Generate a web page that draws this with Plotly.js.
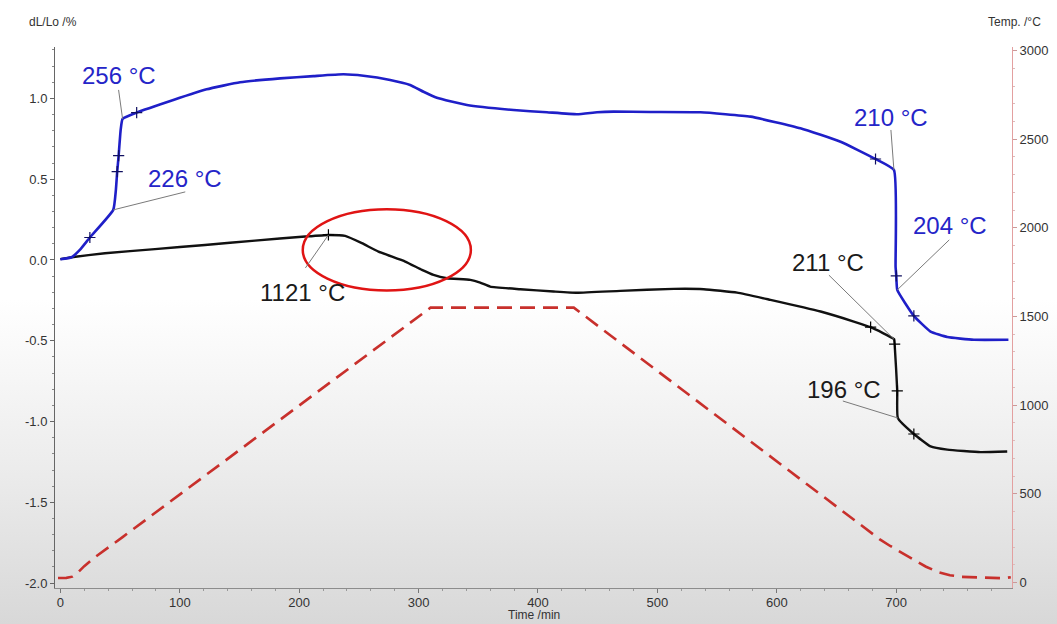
<!DOCTYPE html>
<html>
<head>
<meta charset="utf-8">
<script src="https://cdn.plot.ly/plotly-3.0.1.min.js"></script>
<style>
  html, body { margin: 0; padding: 0; }
  #chart {
    width: 1057px; height: 624px;
    background: linear-gradient(to bottom, #ffffff 0%, #ffffff 48%, #ececec 75%, #d8d8d8 100%);
  }
</style>
</head>
<body>
<div id="chart"></div>
<script>
// Dilatometer run: relative length change of two samples and the furnace temperature program

// Sample A (blue) – time in min, dL/Lo in %
const blueTime = [0, 9.4, 16.3, 24.7, 44.3, 46.5, 47.6, 48.8, 50.5, 52.1, 63.9, 94.6, 122.5, 150.5, 184, 211.9, 237.1, 253.8, 276.2, 292.9, 304.1, 315.3, 340.5, 379.5, 407.5, 432.7, 449.5, 463.4, 494.1, 536.1, 578, 619.8, 653.4, 682.7, 698.1, 699.5, 700.1, 700.9, 714.8, 728.8, 742.8, 765.1, 794];
const blueDL   = [0.005, 0.017, 0.062, 0.139, 0.310, 0.434, 0.547, 0.646, 0.805, 0.873, 0.912, 0.990, 1.056, 1.100, 1.124, 1.138, 1.149, 1.140, 1.114, 1.083, 1.041, 1.004, 0.959, 0.928, 0.914, 0.902, 0.914, 0.918, 0.916, 0.914, 0.887, 0.815, 0.732, 0.625, 0.557, -0.041, -0.098, -0.185, -0.346, -0.443, -0.477, -0.494, -0.494];

// Sample B (black)
const blackTime = [0, 9.4, 37.3, 79.2, 121.1, 163, 205, 224.5, 238.5, 252.5, 266.4, 288.8, 302.8, 312.5, 323.7, 343.3, 351.6, 360, 385.2, 413.1, 432.7, 469, 513.7, 538.8, 566.8, 594.7, 636.7, 664.5, 678.6, 698.1, 698.7, 700.9, 701.4, 714.8, 728.8, 742.8, 770.7, 793];
const blackDL   = [0.005, 0.017, 0.042, 0.067, 0.093, 0.120, 0.145, 0.155, 0.149, 0.104, 0.052, -0.010, -0.061, -0.092, -0.113, -0.123, -0.140, -0.165, -0.181, -0.195, -0.203, -0.191, -0.179, -0.181, -0.202, -0.247, -0.319, -0.381, -0.416, -0.490, -0.521, -0.810, -0.978, -1.077, -1.154, -1.174, -1.189, -1.185];

// Cursor marks on the curves
const blueMarkTime  = [24.7, 47.6, 48.8, 63.9, 682.7, 700.1, 714.8];
const blueMarkDL    = [0.139, 0.547, 0.646, 0.912, 0.625, -0.098, -0.346];
const blackMarkTime = [224.5, 678.6, 698.7, 700.9, 714.8];
const blackMarkDL   = [0.155, -0.416, -0.521, -0.810, -1.077];

// Temperature program (°C)
const tempTime  = [-2, 5, 10, 14, 20, 30, 52.1, 224.5, 310, 430, 686, 695, 705, 715, 725, 735, 745, 755, 770, 790, 796];
const tempValue = [25, 26, 33, 52, 92, 148, 256, 1121, 1550, 1550, 245, 206, 166, 126, 89, 59, 41, 32, 27, 24, 30];

// Temperature call-outs: text and the curve point they belong to
const labelText  = ['256 °C', '226 °C', '1121 °C', '210 °C', '204 °C', '211 °C', '196 °C'];
const labelTime  = [52.1, 44.3, 224.5, 698.1, 700.9, 698.1, 701.4];
const labelDL    = [0.873, 0.310, 0.155, 0.557, -0.185, -0.490, -0.978];
const labelSeries = ['blue', 'blue', 'black', 'blue', 'blue', 'black', 'black'];

// Axis tick labels
const dlTickVals = [-2.0, -1.5, -1.0, -0.5, 0.0, 0.5, 1.0];
const dlTickText = ['-2.0', '-1.5', '-1.0', '-0.5', '0.0', '0.5', '1.0'];

// Highlighted region (time, dL/Lo)
const highlightTime = [203, 343.8];
const highlightDL   = [-0.189, 0.314];

// ---- presentation ----
const BLUE = '#1f1fc8';
const BLACK = '#111111';
const RED = '#c8302c';
const FONT = 'Liberation Sans, Arial, sans-serif';

// pixel offsets of each call-out: [leader dx, leader dy, text dx, text dy]
const labelOffsets = [
  [-4, 29, -4, 43],
  [72, 18, 72, 31],
  [-23, -33, -26, -58],
  [-3, 40, -3, 52],
  [52, 50, 53, 64],
  [-65, 64, -66, 77],
  [-55, 17, -54, 29]
];

const traces = [
  { x: tempTime, y: tempValue, yaxis: 'y2', mode: 'lines',
    line: { color: RED, width: 2.6, dash: '15px,8px' }, hoverinfo: 'skip' },
  { x: blackTime, y: blackDL, mode: 'lines', line: { color: BLACK, width: 2.4, shape: 'spline', smoothing: 0.4 } },
  { x: blueTime, y: blueDL, mode: 'lines', line: { color: BLUE, width: 2.6, shape: 'spline', smoothing: 0.4 } },
  { x: blackMarkTime, y: blackMarkDL, mode: 'markers',
    marker: { symbol: 'cross-thin', size: 8, line: { color: '#000', width: 1.2 } } },
  { x: blueMarkTime, y: blueMarkDL, mode: 'markers',
    marker: { symbol: 'cross-thin', size: 8, line: { color: '#101060', width: 1.2 } } }
];

const shapes = [{
  type: 'circle', xref: 'x', yref: 'y',
  x0: highlightTime[0], x1: highlightTime[1], y0: highlightDL[0], y1: highlightDL[1],
  line: { color: '#e01414', width: 2.5 }
}];

const annotations = [
  { text: 'dL/Lo /%', xref: 'paper', yref: 'paper', x: 0, y: 1, xshift: -28, yshift: 25,
    xanchor: 'left', yanchor: 'middle', showarrow: false, font: { family: FONT, size: 12, color: '#333' } },
  { text: 'Temp. /°C', xref: 'paper', yref: 'paper', x: 1, y: 1, xshift: 31, yshift: 25,
    xanchor: 'right', yanchor: 'middle', showarrow: false, font: { family: FONT, size: 12, color: '#333' } },
  { text: 'Time /min', xref: 'paper', yref: 'paper', x: 0.5, y: 0, yshift: -27,
    xanchor: 'center', yanchor: 'middle', showarrow: false, font: { family: FONT, size: 12, color: '#333' } }
];

labelText.forEach((txt, i) => {
  const [lx, ly, tx, ty] = labelOffsets[i];
  shapes.push({
    type: 'line', xref: 'x', yref: 'y',
    xsizemode: 'pixel', ysizemode: 'pixel',
    xanchor: labelTime[i], yanchor: labelDL[i],
    x0: 0, y0: 0, x1: lx, y1: ly,
    line: { color: '#7a7a7a', width: 1 }
  });
  annotations.push({
    text: txt, x: labelTime[i], y: labelDL[i], xref: 'x', yref: 'y',
    xshift: tx, yshift: ty, showarrow: false, xanchor: 'center', yanchor: 'middle',
    font: { family: FONT, size: 24, color: labelSeries[i] === 'blue' ? '#2525c8' : '#1a1a1a' }
  });
});

const tickFont = { family: FONT, size: 13, color: '#333' };

const layout = {
  width: 1057, height: 624,
  margin: { l: 55, r: 45, t: 47, b: 36 },
  paper_bgcolor: 'rgba(0,0,0,0)',
  plot_bgcolor: 'rgba(0,0,0,0)',
  showlegend: false,
  xaxis: {
    range: [-4.5, 797], tick0: 0, dtick: 100,
    showline: true, linecolor: '#8c8c8c', linewidth: 1,
    ticks: 'outside', ticklen: 4, tickcolor: '#777', tickfont: tickFont,
    ticklabelstandoff: -2,
    showgrid: false, zeroline: false,
    minor: { tickmode: 'linear', tick0: 0, dtick: 20, ticks: 'outside', ticklen: 2, tickcolor: '#999' }
  },
  yaxis: {
    range: [-2.03, 1.318], tickmode: 'array', tickvals: dlTickVals, ticktext: dlTickText,
    showline: true, linecolor: '#666', linewidth: 1,
    ticks: 'outside', ticklen: 4, tickcolor: '#666', tickfont: tickFont,
    showgrid: false, zeroline: false,
    minor: { tickmode: 'linear', tick0: 0, dtick: 0.1, ticks: 'outside', ticklen: 2, tickcolor: '#888' }
  },
  yaxis2: {
    overlaying: 'y', side: 'right', range: [-31, 3020], tick0: 0, dtick: 500,
    showline: true, linecolor: '#e3a0a0', linewidth: 1,
    ticks: 'outside', ticklen: 4, tickcolor: '#c99', tickfont: tickFont,
    showgrid: false, zeroline: false,
    minor: { tickmode: 'linear', tick0: 0, dtick: 100, ticks: 'outside', ticklen: 2, tickcolor: '#dbb' }
  },
  shapes: shapes,
  annotations: annotations
};

Plotly.newPlot('chart', traces, layout, { staticPlot: true, displayModeBar: false });
</script>
</body>
</html>
